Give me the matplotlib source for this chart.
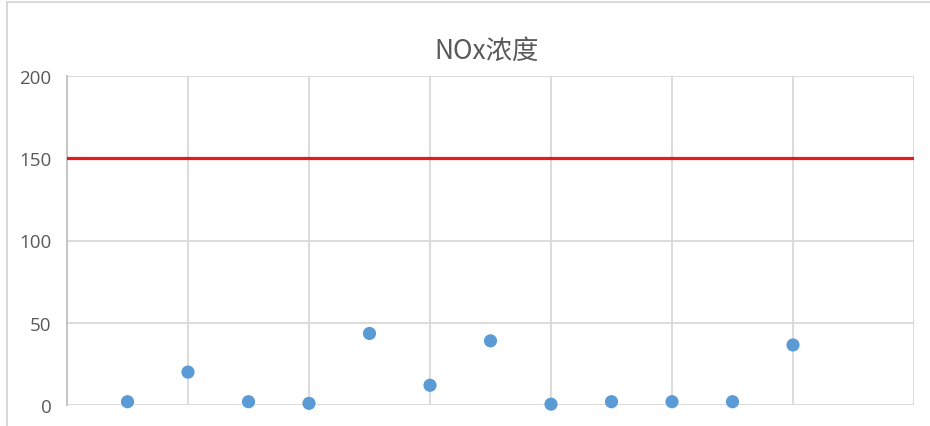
import matplotlib
matplotlib.use("Agg")
import matplotlib.pyplot as plt
from matplotlib.lines import Line2D

plt.rcParams['font.family'] = ['Noto Sans CJK SC', 'DejaVu Sans']

# NOx readings per sample point
sample_idx = [1, 2, 3, 4, 5, 6, 7, 8, 9, 10, 11, 12]
nox_values = [2, 20, 2, 1, 43.5, 12, 39, 0.5, 2, 2, 2, 36.5]
limit_value = 150
y_ticks = [0, 50, 100, 150, 200]
x_grid = [2, 4, 6, 8, 10, 12, 14]
title_text = "NOx浓度"

W, H = 930, 427
fig = plt.figure(figsize=(W / 100, H / 100), dpi=100)
ax = fig.add_axes([67 / W, 1 - 406 / H, (914 - 67) / W, (406 - 77) / H])

# chart frame: top and left edges only
frame_col = '#D9D9D9'
fig.lines.append(Line2D([7 / W, 1], [1 - 3 / H, 1 - 3 / H], transform=fig.transFigure,
                        color=frame_col, linewidth=1.5))
fig.lines.append(Line2D([7 / W, 7 / W], [0, 1 - 3 / H], transform=fig.transFigure,
                        color=frame_col, linewidth=1.5))

ax.set_xlim(0, 14)
ax.set_ylim(0, 200)
ax.set_yticks(y_ticks)
ax.set_xticks(x_grid)
ax.set_xticklabels([])
ax.tick_params(axis='both', length=0)
ax.tick_params(axis='y', pad=11, labelsize=13.5, labelcolor='#595959')
for lab in ax.get_yticklabels():
    lab.set_family(['Open Sans', 'DejaVu Sans'])

ax.grid(True, color='#D9D9D9', linewidth=1.3)
ax.set_axisbelow(True)
for side in ['top', 'right', 'bottom']:
    ax.spines[side].set_visible(False)
ax.spines['left'].set_color('#BFBFBF')
ax.spines['left'].set_linewidth(1.3)

ax.axhline(limit_value, color='#E41A1C', linewidth=2.3, zorder=3)
ax.scatter(sample_idx, nox_values, s=90, color='#5B9BD5', zorder=4, clip_on=False,
           edgecolors='none')

fig.text(487 / W, 1 - 51 / H, title_text, ha='center', va='center',
         fontsize=19, color='#595959')

fig.savefig("out.png", dpi=100)
